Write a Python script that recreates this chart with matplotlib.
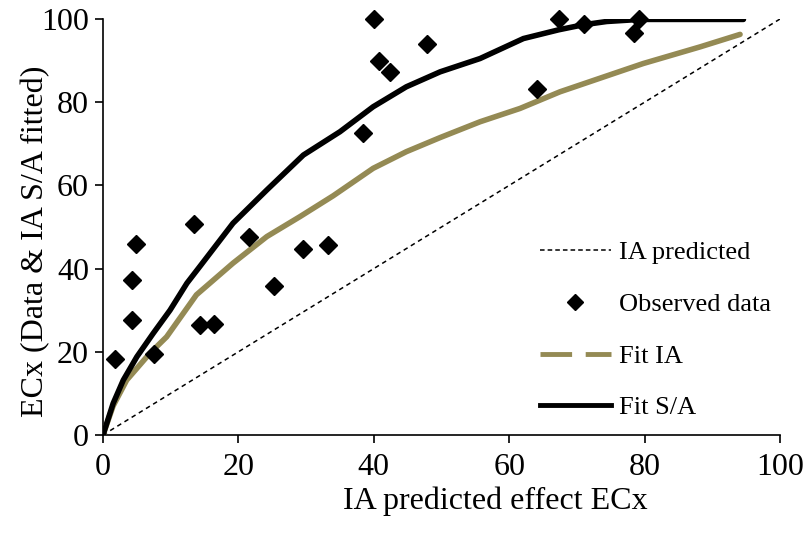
import matplotlib
matplotlib.use("Agg")
import matplotlib.pyplot as plt
from matplotlib.lines import Line2D

plt.rcParams['font.family'] = ['Liberation Serif', 'DejaVu Serif']

# Observed data
obs_x = [1.8, 4.3, 4.3, 4.9, 7.6, 13.5, 14.4, 16.4, 21.5, 25.3, 29.5, 33.3,
         38.4, 40.1, 40.7, 42.4, 47.9, 64.1, 67.3, 71.0, 78.5, 79.1]
obs_y = [18.3, 27.6, 37.3, 45.9, 19.5, 50.7, 26.4, 26.7, 47.6, 35.8, 44.7, 45.7,
         72.6, 100.0, 89.9, 87.3, 94.0, 83.2, 100.0, 98.8, 96.6, 100.0]

# Fit S/A curve
sa_x = [0, 1.5, 3.0, 5.0, 7.4, 9.9, 12.4, 14.3, 19.2, 24.2, 29.6, 35.0, 39.9,
        44.8, 49.8, 55.7, 62.1, 67.3, 70.9, 74.4, 79.3, 94.6]
sa_y = [0, 7.6, 13.2, 18.8, 24.4, 30.0, 36.5, 40.5, 50.9, 58.9, 67.3, 72.9, 78.9,
        83.7, 87.3, 90.5, 95.3, 97.4, 98.6, 99.4, 99.9, 99.9]

# Fit IA curve
ia_x = [0, 1.5, 3.5, 6.9, 9.4, 13.8, 19.2, 24.2, 29.1, 34.0, 39.9, 44.8, 49.8,
        55.7, 61.6, 67.5, 79.8, 88.2, 94.1]
ia_y = [0, 7.0, 13.2, 19.6, 23.6, 33.7, 41.3, 47.7, 52.5, 57.5, 64.1, 68.1, 71.5,
        75.3, 78.5, 82.5, 89.3, 93.3, 96.3]

# IA predicted (1:1 line)
pred_x = [0, 100]
pred_y = [0, 100]

khaki = '#948A54'

fig = plt.figure(figsize=(8.1, 5.37), dpi=100)
ax = fig.add_axes([103/810, 102/537, 677/810, 416/537])

ax.plot(pred_x, pred_y, color='black', lw=1.1, linestyle=(0, (3, 2.5)), zorder=2)
ax.plot(ia_x, ia_y, color=khaki, lw=4.0, solid_capstyle='round',
        solid_joinstyle='round', zorder=3)
ax.plot(sa_x, sa_y, color='black', lw=4.0, solid_capstyle='round',
        solid_joinstyle='round', zorder=4)
ax.plot(obs_x, obs_y, linestyle='none', marker='D', markersize=9.5,
        color='black', clip_on=False, zorder=5)

ax.set_xlim(0, 100)
ax.set_ylim(0, 100)
ax.set_xticks([0, 20, 40, 60, 80, 100])
ax.set_yticks([0, 20, 40, 60, 80, 100])
for s in ['top', 'right']:
    ax.spines[s].set_visible(False)
for s in ['left', 'bottom']:
    ax.spines[s].set_linewidth(1.2)
ax.tick_params(direction='out', length=6, width=1.2, labelsize=23)
ax.tick_params(axis='y', pad=4)
ax.tick_params(axis='x', pad=7)

ax.set_xlabel('IA predicted effect ECx', fontsize=23)
ax.set_ylabel('ECx (Data & IA S/A fitted)', fontsize=23)
ax.xaxis.set_label_coords(0.58, -0.125)
ax.yaxis.set_label_coords(-0.078, 0.465)

handles = [
    Line2D([], [], color='black', lw=1.1, linestyle=(0, (3, 2))),
    Line2D([], [], color='black', linestyle='none', marker='D', markersize=8.5),
    Line2D([], [], color=khaki, lw=3.5, linestyle=(0, (6.5, 2.8))),
    Line2D([], [], color='black', lw=3.5),
]
labels = ['IA predicted', 'Observed data', 'Fit IA', 'Fit S/A']
ax.legend(handles, labels, loc='center left', bbox_to_anchor=(0.645, 0.252),
          frameon=False, fontsize=19, handlelength=2.7, handletextpad=0.3,
          labelspacing=1.07, borderpad=0, borderaxespad=0, numpoints=1)

fig.savefig('out.png', dpi=100)
